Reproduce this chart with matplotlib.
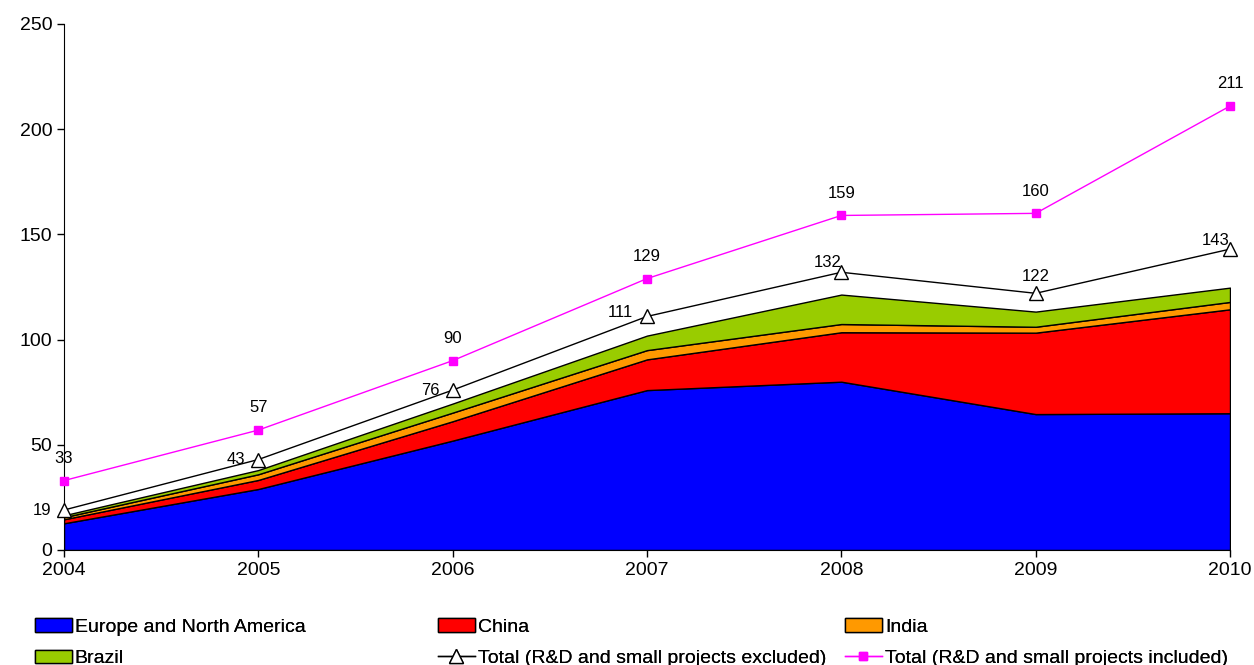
import matplotlib.pyplot as plt
import numpy as np
from matplotlib.patches import Patch
from matplotlib.lines import Line2D

plt.rcParams['font.family'] = ['Liberation Sans', 'DejaVu Sans']

years = [2004, 2005, 2006, 2007, 2008, 2009, 2010]
europe_na = [12.7, 29.0, 52.0, 76.0, 80.0, 64.6, 65.0]
china = [1.9, 4.3, 9.2, 14.6, 23.5, 38.7, 49.4]
india = [1.0, 2.7, 4.1, 4.4, 3.9, 2.8, 3.5]
brazil = [0.9, 2.0, 4.3, 6.9, 14.0, 7.2, 6.8]
total_excl = [19, 43, 76, 111, 132, 122, 143]
total_incl = [33, 57, 90, 129, 159, 160, 211]

fig = plt.figure(figsize=(12.54, 6.65), dpi=100)
ax = fig.add_axes([64 / 1254, 115 / 665, 1166 / 1254, 526 / 665])

layers = [europe_na, china, india, brazil]
colors = ['#0000ff', '#ff0000', '#ff9900', '#99cc00']
names = ['Europe and North America', 'China', 'India', 'Brazil']
ax.stackplot(years, *layers, colors=colors, edgecolor='black', linewidth=1)

ax.plot(years, total_excl, color='black', lw=1, marker='^', markersize=10,
        markerfacecolor='white', markeredgecolor='black', markeredgewidth=1,
        clip_on=False, zorder=4)
ax.plot(years, total_incl, color='#ff00ff', lw=1, marker='s', markersize=5.5,
        clip_on=False, zorder=4)

# value labels: excluded totals sit left of the triangles, included above squares
excl_off = [(-16, 0), (-16, 0), (-16, 0), (-19, 3), (-10, 7), (0, 12), (-10, 6)]
for x, y, (dx, dy) in zip(years, total_excl, excl_off):
    ax.annotate(str(y), (x, y), xytext=(dx, dy), textcoords='offset points',
                ha='center', va='center', fontsize=12)
for x, y in zip(years, total_incl):
    ax.annotate(str(y), (x, y), xytext=(0, 16), textcoords='offset points',
                ha='center', va='center', fontsize=12)

ax.set_xlim(2004, 2010)
ax.set_ylim(0, 250)
ax.set_xticks(years)
ax.set_yticks(range(0, 251, 50))
ax.tick_params(labelsize=14, length=5, width=1, direction='out')
ax.spines['top'].set_visible(False)
ax.spines['right'].set_visible(False)

# legend laid out as three fixed columns of two rows
handles = [Patch(facecolor=c, edgecolor='black', label=n) for c, n in zip(colors, names)]
excl_h = Line2D([], [], color='black', lw=1, marker='^', markersize=10,
                markerfacecolor='white', markeredgecolor='black',
                label='Total (R&D and small projects excluded)')
incl_h = Line2D([], [], color='#ff00ff', lw=1, marker='s', markersize=5.5,
                label='Total (R&D and small projects included)')
columns = [[handles[0], handles[3]], [handles[1], excl_h], [handles[2], incl_h]]
col_x = [35, 438, 845]
for hs, x in zip(columns, col_x):
    leg = fig.legend(handles=hs, loc='upper left', bbox_to_anchor=(x / 1254, 1 - 618 / 665),
                     frameon=False, fontsize=14, handlelength=1.9, handleheight=0.7,
                     handletextpad=0.15, labelspacing=0.72, borderaxespad=0, borderpad=0)
    fig.add_artist(leg)

fig.savefig('out.png', dpi=100)
